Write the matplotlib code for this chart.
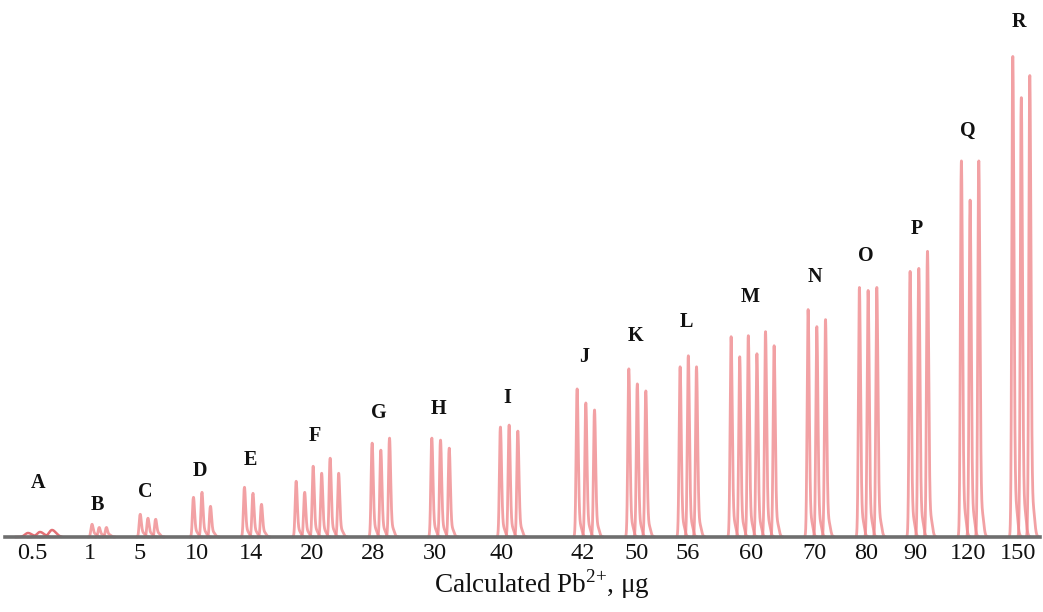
import numpy as np
import matplotlib
matplotlib.use('Agg')
import matplotlib.pyplot as plt

plt.rcParams['font.family'] = ['Liberation Serif', 'DejaVu Serif']
plt.rcParams['mathtext.fontset'] = 'custom'
plt.rcParams['mathtext.rm'] = 'Liberation Serif'

# calculated Pb2+ amount (ug) for each group, and the letter of the group
amounts = ['0.5', '1', '5', '10', '14', '20', '28', '30', '40',
           '42', '50', '56', '60', '70', '80', '90', '120', '150']
letters = list('ABCDEFGHIJKLMNOPQR')

# peak heights of the repeated injections (signal, arbitrary units)
heights = [
    [4, 5, 7],
    [12, 9, 9],
    [22, 18, 17],
    [39, 44, 30],
    [49, 43, 32],
    [55, 44, 70, 63, 78, 63],
    [93, 86, 98],
    [98, 96, 88],
    [109, 111, 105],
    [147, 133, 126],
    [167, 152, 145],
    [169, 180, 169],
    [199, 179, 200, 182, 204, 190],
    [226, 209, 216],
    [248, 245, 248],
    [264, 267, 284],
    [374, 335, 374],
    [478, 437, 459],
]

# position of the first peak of each group on the time axis, and spacing
first_peak = [28, 91.7, 140, 193.3, 244.3, 296, 372, 431.7, 500.3,
              577, 628.7, 680, 731, 808, 859.3, 910, 961.3, 1012.7]
peak_step = [12, 7.2, 7.7, 8.5, 8.5, 8.5, 8.7, 8.7, 8.7,
             8.7, 8.5, 8.2, 8.6, 8.7, 8.7, 8.7, 8.7, 8.5]

# layout: where the amount labels sit, and gap between tallest peak and letter
tick_pos = [32, 90, 140, 197, 251, 312, 373, 435, 502,
            583, 637, 688, 751, 815, 866, 915, 968, 1018]
letter_gap = [47, 20, 23, 22, 28, 23, 26, 30, 28,
              33, 34, 35, 36, 34, 33, 24, 32, 37]

peak_color = '#ef8a8e'


def peak(x0, h, sig=0.9, tail=True):
    x = np.linspace(x0 - 4 * sig, x0 + 9, 400)
    g = np.where(x < x0,
                 np.exp(-0.5 * ((x - x0) / sig) ** 2),
                 np.exp(-0.5 * ((x - x0) / (1.3 * sig)) ** 2))
    y = h * g
    if tail:
        d = np.clip(x - x0, 0, None)
        amp = min(0.07 * h + 3, 0.3 * h)
        y = y + amp * (1 - np.exp(-d / 0.8)) / (1 + np.exp((d - 5) / 0.8))
    return x, y


fig = plt.figure(figsize=(10.43, 6.12), dpi=100)
ax = fig.add_axes([0, 0, 1, 1])

for i, hs in enumerate(heights):
    xs = first_peak[i] + peak_step[i] * np.arange(len(hs))
    for x0, h in zip(xs, hs):
        if i == 0:
            px, py = peak(x0, h, sig=3.0, tail=False)
            ax.plot(px, py, color='#e06066', lw=1.8, alpha=0.9)
        else:
            px, py = peak(x0, h)
            ax.plot(px, py, color=peak_color, lw=2.0, alpha=0.8,
                    solid_capstyle='round')
    cx = xs.mean() - 2
    ax.text(cx, max(hs) + letter_gap[i], letters[i], ha='center', va='center',
            fontsize=14.5, fontweight='bold', color='#111111')

ax.set_xlim(0, 1043)
ax.set_ylim(-75, 537)

for s in ['top', 'right', 'left']:
    ax.spines[s].set_visible(False)
ax.spines['bottom'].set_position(('data', 0))
ax.spines['bottom'].set_bounds(5, 1040)
ax.spines['bottom'].set_color('#6e6e6e')
ax.spines['bottom'].set_linewidth(2.6)
ax.spines['bottom'].set_zorder(3)

ax.set_yticks([])
ax.set_xticks(tick_pos)
ax.set_xticklabels(amounts, fontsize=17.5, color='#111111')
ax.tick_params(axis='x', length=0, pad=4)

ax.set_xlabel('Calculated Pb$^{\\mathregular{2{+}}}$, μg', fontsize=19.5,
              color='#111111')
ax.xaxis.set_label_coords(542 / 1043, 45 / 612)

fig.savefig('out.png', dpi=100)
